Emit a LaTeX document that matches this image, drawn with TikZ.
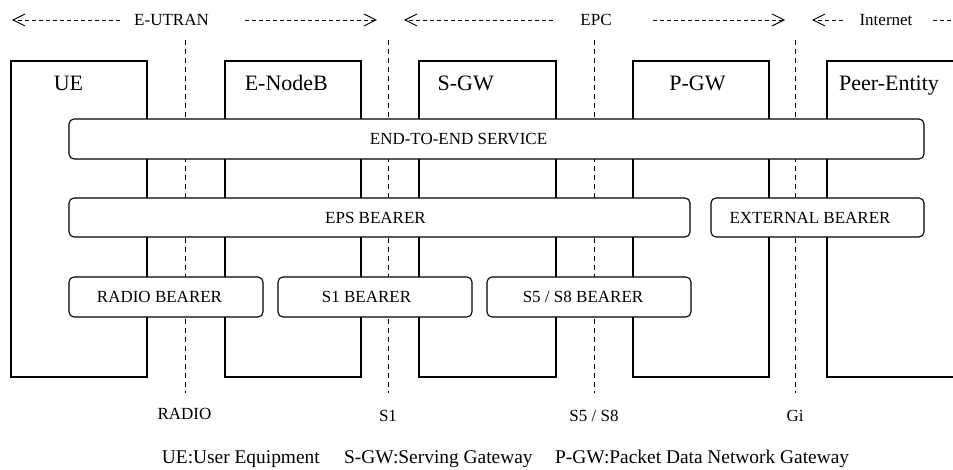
\documentclass[tikz,border=0pt]{standalone}
\usepackage{fontspec}
\setmainfont{Liberation Serif}
\usetikzlibrary{arrows.meta}
\begin{document}
\begin{tikzpicture}[x=1pt,y=-1pt,
  entity/.style={draw, line width=1.1pt, minimum width=136pt, minimum height=316pt, inner sep=0pt},
  bearer/.style={draw, fill=white, rounded corners=5pt, line width=1.1pt, minimum height=40pt, inner sep=0pt, font=\fontsize{17}{20}\selectfont},
  iface/.style={dash pattern=on 5pt off 4pt, line width=1pt},
  spanarrow/.style={dash pattern=on 4pt off 3pt, line width=0.9pt, -{Straight Barb[length=12pt,width=12pt]}},
  spanline/.style={dash pattern=on 4pt off 3pt, line width=0.9pt},
  elabel/.style={font=\fontsize{22}{26}\selectfont, inner sep=0pt, anchor=base},
  txt/.style={font=\fontsize{17}{20}\selectfont, inner sep=0pt},
  legend/.style={font=\fontsize{19.4}{23}\selectfont, inner sep=0pt, anchor=base west}]
\useasboundingbox (0,0) rectangle (953,470);
\clip (0,0) rectangle (953,470);

% entity boxes
\node[entity] (ue) at (79,219) {};
\node[entity] (enb) at (293,219) {};
\node[entity, minimum width=137pt] (sgw) at (487.5,219) {};
\node[entity] (pgw) at (701,219) {};
\node[entity] (peer) at (895,219) {};

\node[elabel] (uel) at (68.5,90.7) {UE};
\node[elabel] (enbl) at (286.3,90.7) {E-NodeB};
\node[elabel] (sgwl) at (465.7,90.7) {S-GW};
\node[elabel] (pgwl) at (697.5,90.7) {P-GW};
\node[elabel] (peerl) at (889,90.7) {Peer-Entity};

% interface lines
\coordinate (radiot) at (185.7,40);
\coordinate (radiob) at (185.7,393);
\coordinate (s1t) at (388,40);
\coordinate (s1b) at (388,393);
\coordinate (s5t) at (594,40);
\coordinate (s5b) at (594,393);
\coordinate (git) at (795,40);
\coordinate (gib) at (795,393);
\draw[iface] (radiot) -- (radiob);
\draw[iface] (s1t) -- (s1b);
\draw[iface] (s5t) -- (s5b);
\draw[iface] (git) -- (gib);

% bearers
\node[bearer, minimum width=855pt] (e2e) at (496.5,139) {END-TO-END SERVICE\hspace*{76pt}};
\node[bearer, minimum width=621pt, minimum height=39pt] (eps) at (379.5,217.5) {EPS BEARER\hspace*{8pt}};
\node[bearer, minimum width=213pt, minimum height=39pt] (ext) at (817.5,217.5) {EXTERNAL BEARER\hspace*{15pt}};
\node[bearer, minimum width=194pt] (rb) at (166,297) {RADIO BEARER\hspace*{13pt}};
\node[bearer, minimum width=194pt] (s1bearer) at (375,297) {S1 BEARER\hspace*{17pt}};
\node[bearer, minimum width=204pt] (s5bearer) at (589,297) {S5 / S8 BEARER\hspace*{12pt}};

% interface labels
\node[txt, anchor=base] (radiol) at (184.5,419) {RADIO};
\node[txt, anchor=base] (s1l) at (388,421) {S1};
\node[txt, anchor=base] (s5l) at (594,421) {S5 / S8};
\node[txt, anchor=base] (gil) at (795,421) {Gi};

% top spans
\node[txt] (eutran) at (171.5,20) {E-UTRAN};
\coordinate (eu1) at (120,20);
\coordinate (eu0) at (12,20);
\coordinate (eu2) at (245,20);
\coordinate (eu3) at (377,20);
\draw[spanarrow] (eu1) -- (eu0);
\draw[spanarrow] (eu2) -- (eu3);

\node[txt] (epc) at (596,20) {EPC};
\coordinate (ep1) at (553,20);
\coordinate (ep0) at (404,20);
\coordinate (ep2) at (653,20);
\coordinate (ep3) at (785,20);
\draw[spanarrow] (ep1) -- (ep0);
\draw[spanarrow] (ep2) -- (ep3);

\node[txt] (inet) at (886,20) {Internet};
\coordinate (in1) at (843,20);
\coordinate (in0) at (812,20);
\coordinate (in2) at (933,20);
\coordinate (in3) at (960,20);
\draw[spanarrow] (in1) -- (in0);
\draw[spanline] (in2) -- (in3);

% legend
\node[legend] (leg1) at (161.7,463) {UE:User Equipment};
\node[legend] (leg2) at (344,463) {S-GW:Serving Gateway};
\node[legend] (leg3) at (555,463) {P-GW:Packet Data Network Gateway};
\end{tikzpicture}
\end{document}
